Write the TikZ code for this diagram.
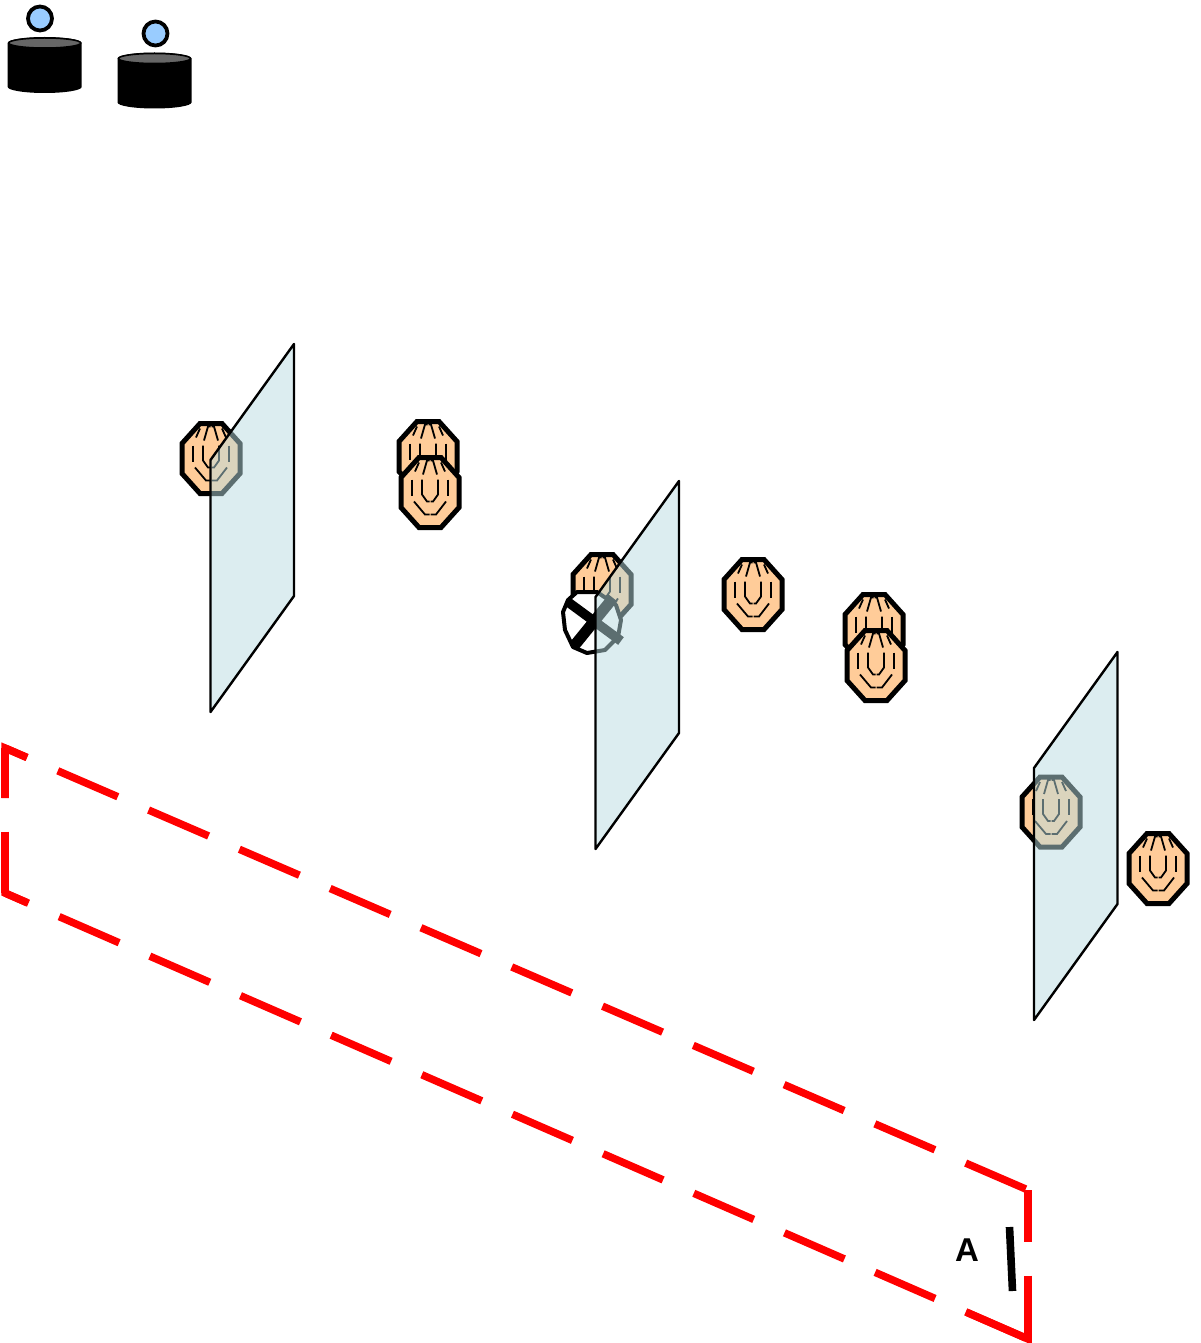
\documentclass[tikz,border=0pt]{standalone}
\usepackage{fontspec}
\setmainfont{Liberation Sans}
\definecolor{skin}{HTML}{FFCC99}
\definecolor{planefill}{HTML}{B9DCE1}
\definecolor{headblue}{HTML}{99CCFF}
\definecolor{drumtop}{HTML}{666666}
\definecolor{zonered}{HTML}{FF0000}
\tikzset{
  outlinestyle/.style={draw=black,line width=5pt,line join=miter,fill=skin},
  detailstyle/.style={draw=black,line width=1.8pt,line join=miter},
  planefillstyle/.style={fill=planefill,fill opacity=0.5},
  planeedge/.style={draw=black,line width=2.4pt,line join=round},
  zonetop/.style={draw=zonered,line width=7.5pt,dash pattern=on 65.4pt off 33.5pt,dash phase=41.4pt},
  zonebottom/.style={draw=zonered,line width=7.5pt,dash pattern=on 65.4pt off 33.5pt,dash phase=39.8pt},
  zoneleft/.style={draw=zonered,line width=7.5pt,dash pattern=on 65.4pt off 33.5pt,dash phase=15.4pt},
  zoneright/.style={draw=zonered,line width=7.5pt,dash pattern=on 65.4pt off 33.5pt,dash phase=13.4pt},
  zonecorner/.style={draw=zonered,line width=7.5pt,line join=miter},
  head/.style={draw=black,line width=3.8pt,fill=headblue},
  glyph/.pic={
    \draw[outlinestyle] (-11,-35)--(11,-35)--(29,-15)--(29,15)--(11,35)--(-11,35)--(-29,15)--(-29,-15)--cycle;
    \draw[detailstyle] (-18,-13)--(-18,3);
    \draw[detailstyle] (18,-13)--(18,3);
    \draw[detailstyle] (-8,-13)--(-8,2)--(-3,9)--(-0.5,9);
    \draw[detailstyle] (8,-13)--(8,2)--(3,9)--(0.5,9);
    \draw[detailstyle] (-16,9)--(-5,22)--(-0.5,22);
    \draw[detailstyle] (16,9)--(6,22)--(0.5,22);
    \draw[detailstyle] (-7,-18)--(-3,-32)--(-0.5,-32);
    \draw[detailstyle] (7,-18)--(3,-32)--(0.5,-32);
    \draw[detailstyle] (-15,-21)--(-11,-30);
    \draw[detailstyle] (15,-21)--(11,-30);
  }
}
\newcommand{\myplane}[1]{%
  \fill[planefillstyle] (#1,0)++(83.5,344)--++(0,252)--++(-83.5,116)--++(0,-252)--cycle;
  \draw[planeedge] (#1,0)++(83.5,344)--++(0,252)--++(-83.5,116)--++(0,-252)--cycle;
}
\newcommand{\mydrum}[2]{%
  \fill[black] (#1,#2+6) arc[start angle=180,end angle=360,x radius=37,y radius=6]
    -- ++(0,44) arc[start angle=0,end angle=180,x radius=37,y radius=6] -- cycle;
  \draw[black,line width=1.5pt,fill=drumtop] (#1+37,#2+6) ellipse[x radius=36,y radius=5];
}
\begin{document}
\begin{tikzpicture}[x=1pt,y=-1pt]
\useasboundingbox (0,0) rectangle (1200,1343);
% drums with heads
\mydrum{7.7}{37}
\mydrum{117.5}{52.5}
\draw[head] (40,18.5) circle[radius=12];
\draw[head] (155.5,33.5) circle[radius=12];
% figures
\pic at (211,458.5) {glyph};
\pic at (428,456.5) {glyph};
\pic at (430,492.5) {glyph};
\pic at (602,589.5) {glyph};
\pic at (753,594.5) {glyph};
\pic at (874,629.5) {glyph};
\pic at (876,665.5) {glyph};
\pic at (1051,812) {glyph};
\pic at (1158,868.5) {glyph};
% crossed-out figure
\draw[black,line width=4pt,fill=white,line join=round] (577,592)--(597,592)--(616,605)--(621,620)--(618,637)--(605,650)--(587,653)--(573,647)--(565,630)--(563,612)--(568,600)--cycle;
\draw[black,line width=9.5pt] (568,602)--(621,641);
\draw[black,line width=11pt] (613,598)--(574,646);
% planes
\begin{scope}[shift={(0,0)}]
\myplane{210.5}
\end{scope}
\begin{scope}[shift={(0,137)}]
\myplane{595.5}
\end{scope}
\begin{scope}[shift={(0,308)}]
\myplane{1034}
\end{scope}
% dashed red zone
\draw[zonetop] (5,748)--(1028,1190);
\draw[zonebottom] (5,893)--(1028,1339);
\draw[zoneleft] (5,748)--(5,893);
\draw[zoneright] (1028,1190)--(1028,1339);
\draw[zonecorner] (27,757.5)--(5,748)--(5,798);
\draw[zonecorner] (5,833)--(5,893)--(27,902.6);
\draw[zonecorner] (1028,1278)--(1028,1339)--(966,1312);
% label
\node[inner sep=0pt,font=\fontsize{33}{33}\selectfont\bfseries] (labelA) at (967,1250) {A};
\draw[black,line width=7.6pt] (1009.5,1227)--(1012.5,1291);
\end{tikzpicture}
\end{document}
